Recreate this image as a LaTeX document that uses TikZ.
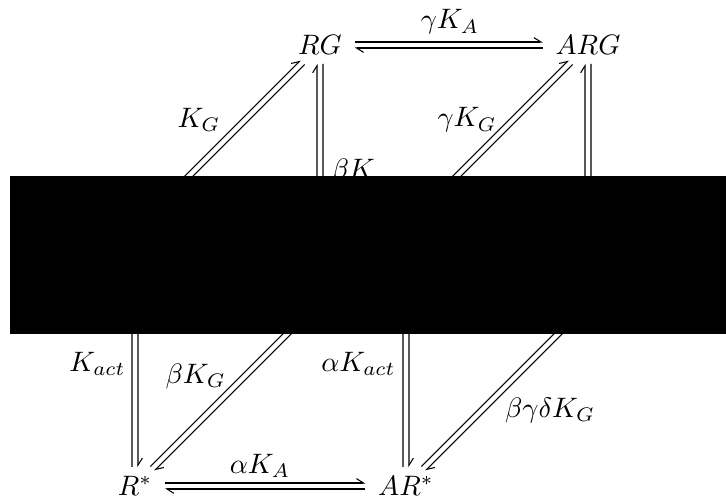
\documentclass[tikz,border=0pt]{standalone}
\usetikzlibrary{arrows.meta}
\newcommand{\rxn}[4]{%
  \draw[harp,off={#3}{#4}] (#1) -- (#2);
  \draw[harp,off={-1*#3}{-1*#4}] (#2) -- (#1);}
\begin{document}
\begin{tikzpicture}[x=0.02cm,y=-0.02cm,
  every node/.style={scale=1.6},
  spc/.style={inner xsep=2.5pt,inner ysep=1.25pt},
  lbl/.style={inner sep=0pt},
  harp/.style={-{Straight Barb[left,length=4pt,width=5pt]},line width=0.6pt,
    shorten >=3pt,shorten <=3pt},
  off/.style 2 args={transform canvas={shift={({#1},{#2})}}}]
\useasboundingbox (0,0) rectangle (726,500);
% species
\node[spc] (RG) at (320,45) {$RG$};
\node[spc] (ARG) at (588,45) {$ARG$};
\node[spc] (Rs) at (135,486) {$R^*$};
\node[spc] (ARs) at (406,486) {$AR^*$};
% corners under the box
\coordinate (R) at (135,230);
\coordinate (AR) at (406,227);
\coordinate (RsG) at (320,301);
\coordinate (ARsG) at (588,304);
% equilibria
\rxn{RG}{ARG}{0pt}{1.7pt}
\rxn{R}{RG}{-1.2pt}{1.2pt}
\rxn{RsG}{RG}{-1.7pt}{0pt}
\rxn{AR}{ARG}{-1.2pt}{1.2pt}
\rxn{ARsG}{ARG}{-1.7pt}{0pt}
\rxn{R}{Rs}{1.7pt}{0pt}
\rxn{RsG}{Rs}{1.2pt}{-1.2pt}
\rxn{AR}{ARs}{1.7pt}{0pt}
\rxn{ARsG}{ARs}{1.2pt}{-1.2pt}
\rxn{Rs}{ARs}{0pt}{1.7pt}
% rate labels
\node[lbl] (kA1) at (450,22) {$\gamma K_A$};
\node[lbl] (kG1) at (199,120) {$K_G$};
\node[lbl] (kG2) at (467,120) {$\gamma K_G$};
\node[lbl,anchor=base west] (kG3) at (331,178) {$\beta K$};
\node[lbl,anchor=base east] (kact1) at (126,371) {$K_{act}$};
\node[lbl,anchor=base west] (kG4) at (165,383) {$\beta K_G$};
\node[lbl,anchor=base east] (kact2) at (396,371) {$\alpha K_{act}$};
\node[lbl] (kG5) at (550,410) {$\beta\gamma\delta K_G$};
\node[lbl] (kA2) at (260,466) {$\alpha K_A$};
% box
\fill (10,176) rectangle (726,334);
\end{tikzpicture}
\end{document}
